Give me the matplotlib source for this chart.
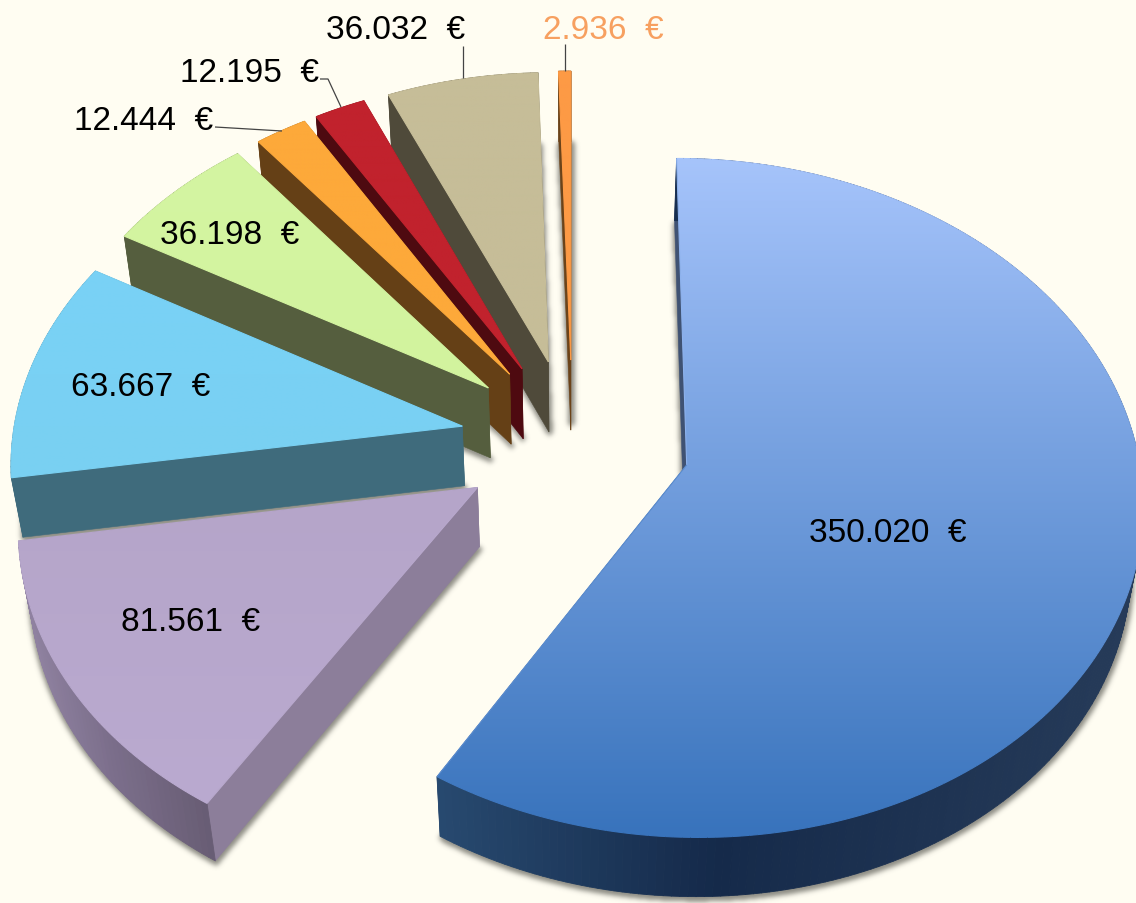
import numpy as np
import matplotlib
matplotlib.use('Agg')
import matplotlib.pyplot as plt
from matplotlib.colors import to_rgb
from matplotlib.collections import LineCollection, PolyCollection
from matplotlib.patches import Polygon
from matplotlib.path import Path

plt.rcParams['font.family'] = ['Liberation Sans', 'DejaVu Sans']

# datos, en el orden del pastel (sentido horario desde arriba)
values = [350020, 81561, 63667, 36198, 12444, 12195, 36032, 2936]
top_light = ['#a6c4fb', '#b5a5c9', '#79d2f6', '#d4f5a2', '#fda93a', '#c1222d', '#c6bd98', '#fd9a45']
top_dark = ['#3873bc', '#baaad0', '#79d0f2', '#d2f39e', '#fda93a', '#c1222d', '#c6bd98', '#fd9a45']
wall_colors = ['#3f5273', '#8c7e9a', '#3f6b7c', '#555e3e', '#654016', '#4e0a10', '#4f4a3a', '#6b4319']
rim_left = ['#27496f', '#8f81a0', '#3f6b7c', '#555e3e', '#654016', '#4e0a10', '#4f4a3a', '#6b4319']
rim_mid = ['#152a4a', '#7c6f8c', '#3f6b7c', '#555e3e', '#654016', '#4e0a10', '#4f4a3a', '#6b4319']
rim_right = ['#263b59', '#665b72', '#3f6b7c', '#555e3e', '#654016', '#4e0a10', '#4f4a3a', '#6b4319']
text_colors = ['black'] * 7 + ['#f7a060']

# separacion y grosor de cada porcion
explode = [0.262, 0.25, 0.25, 0.25, 0.25, 0.25, 0.25, 0.25]
thick = [0.207, 0.2, 0.2, 0.235, 0.235, 0.235, 0.235, 0.235]

# posicion de las etiquetas y lineas guia (pixeles)
label_x = [888, 191, 141, 230, 144, 249, 396, 603]
label_y = [530, 619, 384, 232, 118, 70, 27, 27]
leaders = [
    [(215, 128), (282, 132)],
    [(320, 80), (328, 80), (341, 108)],
    [(463, 47), (463, 79)],
    [(565, 45), (565, 72)],
]

W, H = 1136, 904
BG = '#fffdf2'

# camara
cam_x, cam_y = 572.5, 442
focal = 3150
dist = 7.0
sin_e, cos_e = 0.737, 0.676


def project(x, y, z):
    d = dist + y * cos_e - z * sin_e
    v = y * sin_e + z * cos_e
    return cam_x + focal * x / d, cam_y - focal * v / d


def mix(c1, c2, t):
    return np.array(to_rgb(c1)) * (1 - t) + np.array(to_rgb(c2)) * t


def blur(img, sigma):
    pad = 30
    big = np.pad(img, pad)
    fy = np.fft.fftfreq(big.shape[0])[:, None]
    fx = np.fft.rfftfreq(big.shape[1])[None, :]
    kernel = np.exp(-2 * (np.pi * sigma) ** 2 * (fx ** 2 + fy ** 2))
    out = np.fft.irfft2(np.fft.rfft2(big) * kernel, s=big.shape)
    return out[pad:-pad, pad:-pad]


def dilate(img, steps):
    out = img
    for _ in range(steps):
        grown = np.pad(out, 1)
        out = np.maximum.reduce([out, grown[2:, 1:-1], grown[:-2, 1:-1], grown[1:-1, 2:], grown[1:-1, :-2]])
    return out


fig = plt.figure(figsize=(W / 100, H / 100), dpi=100, facecolor=BG)
ax = fig.add_axes([0, 0, 1, 1])
ax.set_xlim(0, W)
ax.set_ylim(H, 0)
ax.axis('off')

fractions = np.array(values) / sum(values)
ends = np.cumsum(fractions) * 2 * np.pi
starts = ends - fractions * 2 * np.pi

# geometria de cada porcion
slices = []
for a0, a1, e in zip(starts, ends, explode):
    mid = (a0 + a1) / 2
    ox, oy = e * np.sin(mid), e * np.cos(mid)
    th = np.linspace(a0, a1, max(int((a1 - a0) * 60), 6))
    rx, ry = ox + np.sin(th), oy + np.cos(th)
    slices.append((ox, oy, rx, ry))

# sombra difusa de la base
yy, xx = np.mgrid[0:H, 0:W]
grid = np.column_stack([xx.ravel() + 0.5, yy.ravel() + 0.5])
mask = np.zeros((H, W))
for i, (ox, oy, rx, ry) in enumerate(slices):
    bx = np.r_[ox, rx]
    by = np.r_[oy, ry]
    px, py = project(bx, by, -thick[i] * np.ones(len(bx)))
    inside = Path(np.column_stack([px + 1, py + 2])).contains_points(grid)
    mask = np.maximum(mask, inside.reshape(H, W).astype(float))
shadow = np.zeros((H, W, 4))
shadow[..., :3] = to_rgb('#4f4f48')
shadow[..., 3] = np.clip(blur(dilate(mask, 3), 2.5), 0, 1) * 0.65
ax.imshow(shadow, extent=(0, W, H, 0), aspect='auto', zorder=1, interpolation='bilinear')

# de atras hacia adelante
z = 2
for i in range(len(values) - 1, -1, -1):
    ox, oy, rx, ry = slices[i]
    h = thick[i]

    # paredes radiales
    for k in (0, -1):
        wx = np.array([ox, rx[k], rx[k], ox])
        wy = np.array([oy, ry[k], ry[k], oy])
        wz = np.array([0, 0, -h, -h])
        px, py = project(wx, wy, wz)
        ax.add_patch(Polygon(np.column_stack([px, py]), closed=True, fc=wall_colors[i],
                             ec=wall_colors[i], lw=0.4, zorder=z))
    z += 1

    # pared exterior
    tx, ty = project(rx, ry, np.zeros(len(rx)))
    bx, by = project(rx, ry, -h * np.ones(len(rx)))
    quads = []
    cols = []
    span = max(bx.max() - bx.min(), 1)
    for j in range(len(rx) - 1):
        quads.append([(tx[j], ty[j]), (tx[j + 1], ty[j + 1]), (bx[j + 1], by[j + 1]), (bx[j], by[j])])
        t = np.clip(((tx[j] + tx[j + 1]) / 2 - bx.min()) / span, 0, 1)
        if t < 0.4:
            cols.append(mix(rim_left[i], rim_mid[i], t / 0.4))
        else:
            cols.append(mix(rim_mid[i], rim_right[i], (t - 0.4) / 0.6))
    ax.add_collection(PolyCollection(quads, facecolors=cols, edgecolors=cols, linewidths=0.6, zorder=z))
    z += 1

    # cara superior con degradado
    cx0, cy0 = project(ox, oy, 0)
    poly = np.column_stack([np.r_[cx0, tx], np.r_[cy0, ty]])
    y0, y1 = poly[:, 1].min(), poly[:, 1].max()
    x0, x1 = poly[:, 0].min(), poly[:, 0].max()
    ramp = np.linspace(0, 1, 256)
    grad = np.array([mix(top_light[i], top_dark[i], t) for t in ramp])[:, None, :]
    im = ax.imshow(grad, extent=(x0, x1, y1, y0), aspect='auto', zorder=z, interpolation='bilinear')
    clip = Polygon(poly, closed=True, transform=ax.transData, fc='none', ec='none')
    ax.add_patch(clip)
    im.set_clip_path(clip)
    z += 1
    closed = np.vstack([poly, poly[0]])
    segs = np.stack([closed[:-1], closed[1:]], axis=1)
    seg_cols = [mix(top_light[i], top_dark[i], (s[:, 1].mean() - y0) / (y1 - y0)) for s in segs]
    ax.add_collection(LineCollection(segs, colors=seg_cols, linewidths=0.8, zorder=z))
    z += 1

for pts in leaders:
    xs, ys = zip(*pts)
    ax.plot(xs, ys, color='#444444', lw=0.9, zorder=z, solid_capstyle='butt')

for i, v in enumerate(values):
    label = f'{v:,}'.replace(',', '.') + '  €'
    ax.text(label_x[i], label_y[i], label, color=text_colors[i], fontsize=24,
            ha='center', va='center_baseline', zorder=z + 1)

ax.set_xlim(0, W)
ax.set_ylim(H, 0)

fig.savefig('out.png', dpi=100, facecolor=BG)
